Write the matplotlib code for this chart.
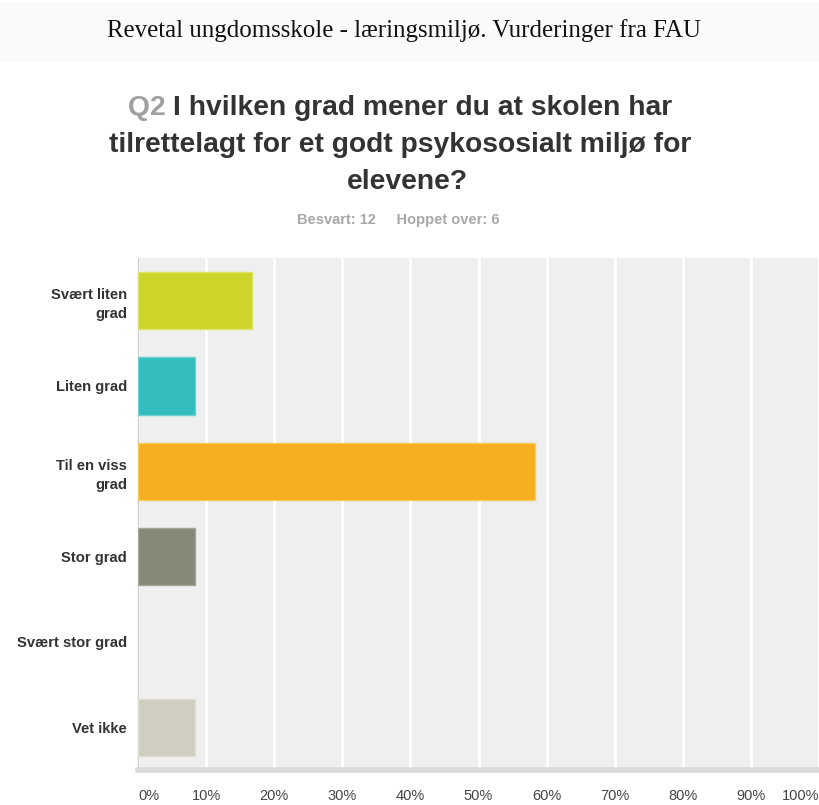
import numpy as np
import matplotlib.pyplot as plt
from matplotlib.patches import Rectangle

# Data (Besvart: 12)
kategorier = ["Svært liten\ngrad", "Liten grad", "Til en viss\ngrad", "Stor grad",
              "Svært stor grad", "Vet ikke"]
prosent = [16.67, 8.33, 58.33, 8.33, 0.0, 8.33]
farger = ["#CDD52A", "#33BDBE", "#F6AF20", "#878876", "#A8A28E", "#CFCEC0"]
kanter = ["#DDE36A", "#6DD0D1", "#F9C85E", "#A5A698", "#C3BEAF", "#DEDDD2"]
xticks = [0, 10, 20, 30, 40, 50, 60, 70, 80, 90, 100]

plt.rcParams['font.family'] = ['Liberation Sans', 'DejaVu Sans']

W, H = 819, 805
fig = plt.figure(figsize=(W / 100, H / 100), dpi=100)

# top band with report header
fig.patches.append(Rectangle((0, 1 - 62/H), 1, 59/H, transform=fig.transFigure,
                             facecolor="#FAFAFA", edgecolor="none", zorder=0))
fig.text(404/W, 1 - 31/H, "Revetal ungdomsskole - læringsmiljø. Vurderinger fra FAU",
         family="Liberation Serif", fontsize=17.9, color="#111111", ha="center", va="center")

# question title, first line has grey "Q2"
tfs = 20.3
renderer = fig.canvas.get_renderer()
q = fig.text(0, 1 - 108/H, "Q2 ", fontsize=tfs, fontweight="bold", color="#A0A0A0",
             ha="left", va="center")
r = fig.text(0, 1 - 108/H, "I hvilken grad mener du at skolen har", fontsize=tfs,
             fontweight="bold", color="#333333", ha="left", va="center")
wq = q.get_window_extent(renderer).width
wr = r.get_window_extent(renderer).width
x0 = 400 - (wq + wr) / 2
q.set_x(x0 / W)
r.set_x((x0 + wq) / W)
fig.text(400/W, 1 - 145/H, "tilrettelagt for et godt psykososialt miljø for", fontsize=tfs,
         fontweight="bold", color="#333333", ha="center", va="center")
fig.text(407/W, 1 - 182/H, "elevene?", fontsize=tfs, fontweight="bold", color="#333333",
         ha="center", va="center")
fig.text(398/W, 1 - 220/H, "Besvart: 12     Hoppet over: 6", fontsize=10.5, fontweight="bold",
         color="#A8A8A8", ha="center", va="center")

ax = fig.add_axes([138/W, 35/H, 1 - 138/W, 512/H])
ax.set_facecolor("#EFEFEF")

y = np.arange(len(kategorier))
ax.barh(y, prosent, height=0.67, color=farger, edgecolor=kanter,
        linewidth=[1 if v > 0 else 0 for v in prosent], zorder=3)

ax.set_xlim(0, 100)
ax.set_ylim(len(kategorier) - 0.5, -0.5)
ax.set_xticks(xticks)
ax.set_xticklabels([f"{v}%" for v in xticks])
for lab, v in zip(ax.get_xticklabels(), xticks):
    lab.set_ha("left" if v == 0 else ("right" if v == 100 else "center"))
ax.tick_params(axis="x", length=0, pad=14, labelsize=10.5, labelcolor="#444444")
ax.set_yticks(y)
ax.set_yticklabels(kategorier, fontweight="bold", linespacing=1.45)
ax.tick_params(axis="y", length=0, pad=8, labelsize=10.6, labelcolor="#333333")
ax.grid(axis="x", color="white", linewidth=2, zorder=1)

for s in ["top", "right"]:
    ax.spines[s].set_visible(False)
ax.spines["left"].set_color("#D0D0D0")
ax.spines["left"].set_linewidth(1)
ax.spines["bottom"].set_color("#DADADA")
ax.spines["bottom"].set_linewidth(4)

fig.savefig("out.png", dpi=100)
